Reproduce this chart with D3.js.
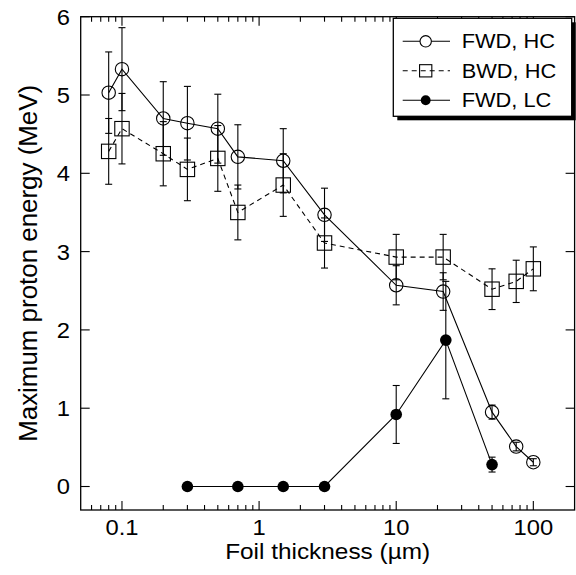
<!DOCTYPE html>
<html><head><meta charset="utf-8">
<script src="https://cdn.jsdelivr.net/npm/d3@7"></script>
<style>body{margin:0;background:#fff}</style>
</head><body><svg id="chart" width="576" height="575"></svg>
<script>
// ---- data ----
const thickness = [0.08, 0.1, 0.2, 0.3, 0.5, 0.7, 1.5, 3, 10, 22, 50, 75, 100];
const fwdHC    = [5.03, 5.33, 4.70, 4.64, 4.57, 4.21, 4.16, 3.47, 2.57, 2.49, 0.95, 0.51, 0.31];
const fwdHCErr = [0.52, 0.53, 0.47, 0.47, 0.44, 0.41, 0.41, 0.34, 0.25, 0.24, 0.09, 0.055, 0.045];
const bwdHC    = [4.28, 4.57, 4.25, 4.05, 4.19, 3.50, 3.85, 3.11, 2.93, 2.93, 2.52, 2.62, 2.78];
const bwdHCErr = [0.42, 0.45, 0.41, 0.40, 0.42, 0.35, 0.40, 0.32, 0.29, 0.29, 0.26, 0.27, 0.28];
const lcThickness = [0.3, 0.7, 1.5, 3, 10, 23, 50];
const fwdLC    = [0, 0, 0, 0, 0.92, 1.87, 0.28];
const fwdLCErr = [0, 0, 0, 0, 0.37, 0.75, 0.095];
const xTickValues = [0.1, 1, 10, 100];
const xTickLabels = ["0.1", "1", "10", "100"];
const yTickValues = [0, 1, 2, 3, 4, 5, 6];
const seriesNames = ["FWD, HC", "BWD, HC", "FWD, LC"];
const xTitle = "Foil thickness (\u00b5m)";
const yTitle = "Maximum proton energy (MeV)";

// ---- layout ----
const L = 80.7, R = 574.6, T = 16.7, B = 510;
const FONT = "'Liberation Sans', Arial, Helvetica, sans-serif";
const svg = d3.select("#chart");
const x = d3.scaleLog().domain([0.05, 200]).range([L, R]);
const y = d3.scaleLinear().domain([-0.3, 6]).range([B, T]);

function stretch(sel, k) {
  sel.each(function () {
    const len = this.getComputedTextLength();
    this.setAttribute("textLength", len * k);
    this.setAttribute("lengthAdjust", "spacingAndGlyphs");
  });
}
function setLen(sel, target) {
  sel.attr("textLength", target).attr("lengthAdjust", "spacingAndGlyphs");
}

// ---- frame ----
svg.append("rect").attr("x", L).attr("y", T).attr("width", R - L).attr("height", B - T)
  .attr("fill", "none").attr("stroke", "#000").attr("stroke-width", 1.3);

// ---- x ticks (bottom & top, inside) ----
const isMajor = v => xTickValues.some(t => Math.abs(Math.log10(v) - Math.log10(t)) < 1e-6);
const xt = x.ticks().filter(v => v > 0.05 * 1.001 && v < 200 * 0.999);
const gx = svg.append("g").attr("stroke", "#000").attr("stroke-width", 1.1);
xt.forEach(v => {
  const len = isMajor(v) ? 9 : 5;
  const px = x(v);
  gx.append("line").attr("x1", px).attr("x2", px).attr("y1", B).attr("y2", B - len);
  gx.append("line").attr("x1", px).attr("x2", px).attr("y1", T).attr("y2", T + len);
});
// ---- y ticks (left & right, inside) ----
yTickValues.forEach(v => {
  const py = y(v);
  gx.append("line").attr("x1", L).attr("x2", L + 9).attr("y1", py).attr("y2", py);
  gx.append("line").attr("x1", R).attr("x2", R - 9).attr("y1", py).attr("y2", py);
});

// ---- tick labels ----
const xl = svg.append("g").selectAll("text").data(xTickValues).join("text")
  .attr("x", d => x(d)).attr("y", 535).attr("text-anchor", "middle")
  .attr("font-family", FONT).attr("font-size", 22).text((d, i) => xTickLabels[i]);
stretch(xl, 1.08);
const yl = svg.append("g").selectAll("text").data(yTickValues).join("text")
  .attr("x", 70).attr("y", d => y(d)).attr("dy", "0.36em").attr("text-anchor", "end")
  .attr("font-family", FONT).attr("font-size", 22).text(d => d);
stretch(yl, 1.08);

// ---- axis titles ----
const xtT = svg.append("text").attr("x", (L + R) / 2).attr("y", 559).attr("text-anchor", "middle")
  .attr("font-family", FONT).attr("font-size", 22).text(xTitle);
setLen(xtT, 205);
const ytT = svg.append("text").attr("transform", `translate(37,${(T + B) / 2}) rotate(-90)`)
  .attr("text-anchor", "middle").attr("font-family", FONT).attr("font-size", 25).text(yTitle);
setLen(ytT, 357);

// ---- series ----
const series = [
  {name: seriesNames[0], xs: thickness, ys: fwdHC, es: fwdHCErr, dash: null, marker: "circle"},
  {name: seriesNames[1], xs: thickness, ys: bwdHC, es: bwdHCErr, dash: "5,4", marker: "square"},
  {name: seriesNames[2], xs: lcThickness, ys: fwdLC, es: fwdLCErr, dash: null, marker: "filled"}
];
const line = d3.line().x(d => x(d[0])).y(d => y(d[1]));
const CAP = 3.5;

function drawMarker(g, type, cx, cy, scale, legend) {
  if (type === "circle") {
    g.append("circle").attr("cx", cx).attr("cy", cy).attr("r", 6.7 * scale)
      .attr("fill", legend ? "#fff" : "none").attr("stroke", "#000").attr("stroke-width", 1.1);
  } else if (type === "square") {
    const h = 7.2 * scale;
    g.append("rect").attr("x", cx - h).attr("y", cy - h).attr("width", 2 * h).attr("height", 2 * h)
      .attr("fill", "none").attr("stroke", "#000").attr("stroke-width", 1.1);
  } else {
    g.append("circle").attr("cx", cx).attr("cy", cy).attr("r", 5.8 * scale).attr("fill", "#000");
  }
}

series.forEach(s => {
  const pts = s.xs.map((v, i) => [v, s.ys[i], s.es[i]]);
  const g = svg.append("g");
  g.append("path").attr("d", line(pts)).attr("fill", "none").attr("stroke", "#000")
    .attr("stroke-width", 1.1).attr("stroke-dasharray", s.dash);
  pts.forEach(p => {
    if (p[2] > 0) {
      const px = x(p[0]), y1 = y(p[1] + p[2]), y0 = y(p[1] - p[2]);
      g.append("line").attr("x1", px).attr("x2", px).attr("y1", y1).attr("y2", y0)
        .attr("stroke", "#000").attr("stroke-width", 1.1);
      [y1, y0].forEach(yy => g.append("line").attr("x1", px - CAP).attr("x2", px + CAP)
        .attr("y1", yy).attr("y2", yy).attr("stroke", "#000").attr("stroke-width", 1.1));
    }
  });
  pts.forEach(p => drawMarker(g, s.marker, x(p[0]), y(p[1]), 1, false));
});

// ---- legend ----
const lg = svg.append("g");
const lx0 = 393.3, ly0 = 18.3, lw = 178.4, lh = 98;
lg.append("rect").attr("x", lx0 + 4).attr("y", ly0 + 4).attr("width", lw).attr("height", lh).attr("fill", "#000");
lg.append("rect").attr("x", lx0).attr("y", ly0).attr("width", lw).attr("height", lh)
  .attr("fill", "#fff").attr("stroke", "#000").attr("stroke-width", 1.3);
series.forEach((s, i) => {
  const cy = ly0 + 23 + i * 29.5;
  lg.append("line").attr("x1", lx0 + 9.4).attr("x2", lx0 + 56.7).attr("y1", cy).attr("y2", cy)
    .attr("stroke", "#000").attr("stroke-width", 1.1).attr("stroke-dasharray", s.dash);
  drawMarker(lg, s.marker, lx0 + 32.4, cy, 0.85, true);
  const t = lg.append("text").attr("x", lx0 + 68.4).attr("y", cy + 7)
    .attr("font-family", FONT).attr("font-size", 20).text(s.name);
  stretch(t, 1.09);
});
</script>
</body></html>
